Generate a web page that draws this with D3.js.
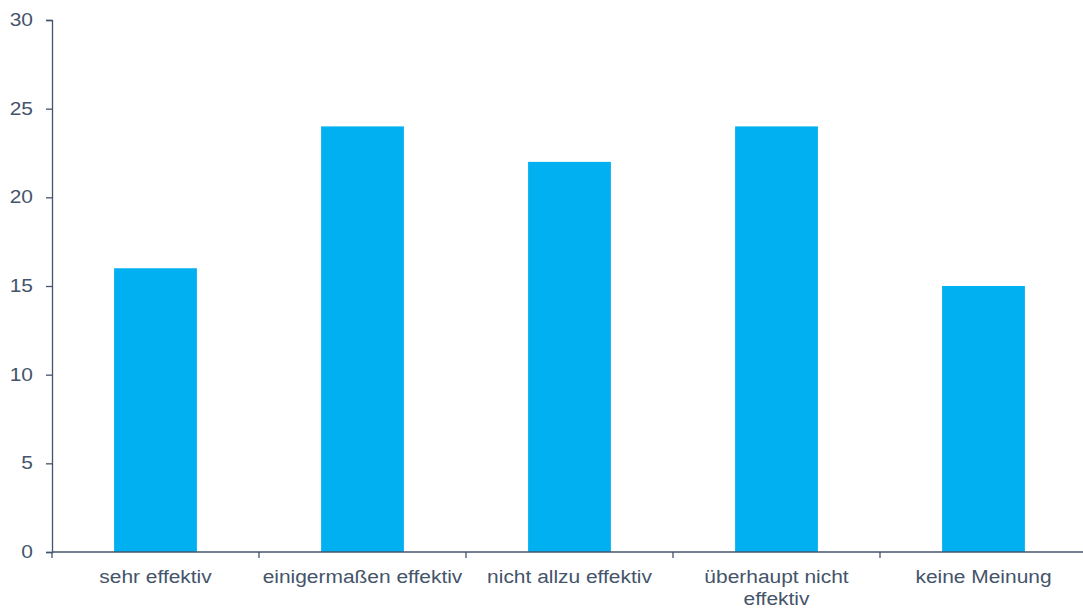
<!DOCTYPE html>
<html>
<head>
<meta charset="utf-8">
<script src="https://cdn.jsdelivr.net/npm/d3@7"></script>
<style>
  body { margin: 0; background: #fff; }
  svg { display: block; }
  text { font-family: "Liberation Sans", Arial, sans-serif; fill: #44546a; }
</style>
</head>
<body>
<svg id="chart" width="1083" height="610"></svg>
<script>
const categories = ["sehr effektiv", "einigermaßen effektiv", "nicht allzu effektiv", "überhaupt nicht effektiv", "keine Meinung"];
const values = [16, 24, 22, 24, 15];
const yTicks = [0, 5, 10, 15, 20, 25, 30];

const svg = d3.select("#chart");
const margin = { left: 52, top: 20, bottom: 58 };
const height = 610;
const plotRight = 1087;

const x = d3.scaleBand()
  .domain(categories)
  .range([margin.left, plotRight])
  .paddingInner(0.6)
  .paddingOuter(0.3);

const y = d3.scaleLinear()
  .domain([0, 30])
  .range([height - margin.bottom, margin.top]);

const axisColor = "#44546a";
const fontSize = 17.6;
const stretch = 1.19;   // wide glyph proportions

// bars
svg.append("g")
  .selectAll("rect")
  .data(values)
  .join("rect")
  .attr("x", (d, i) => x(categories[i]))
  .attr("y", d => y(d))
  .attr("width", x.bandwidth())
  .attr("height", d => y(0) - y(d))
  .attr("fill", "#00b0f0");

// y axis
const yPad = 13;
const yAxis = svg.append("g")
  .attr("transform", `translate(${margin.left},0)`)
  .call(d3.axisLeft(y).tickValues(yTicks).tickSize(6).tickPadding(yPad));
yAxis.select(".domain").attr("stroke", axisColor).attr("stroke-width", 1.3);
yAxis.selectAll(".tick line").attr("stroke", axisColor).attr("stroke-width", 1.3);
yAxis.selectAll(".tick text")
  .style("font-size", fontSize + "px")
  .attr("fill", axisColor)
  .attr("transform", () => {
    const tx = -(6 + yPad);
    return `translate(${tx},0) scale(${stretch},1) translate(${-tx},0)`;
  });

// x axis: line and tick marks at category boundaries
const xg = svg.append("g");
xg.append("line")
  .attr("x1", margin.left).attr("x2", plotRight)
  .attr("y1", y(0)).attr("y2", y(0))
  .attr("stroke", axisColor).attr("stroke-width", 1.6);
const step = x.step();
const boundaries = categories.map((c, i) => margin.left + i * step).concat([plotRight]);
xg.selectAll("line.tick")
  .data(boundaries)
  .join("line")
  .attr("class", "tick")
  .attr("x1", d => d).attr("x2", d => d)
  .attr("y1", y(0)).attr("y2", y(0) + 6)
  .attr("stroke", axisColor).attr("stroke-width", 1.3);

// category labels, wrapped to the band width
const maxWidth = step - 2;
categories.forEach(c => {
  const cx = x(c) + x.bandwidth() / 2;
  const g = xg.append("g")
    .attr("transform", `translate(${cx},${y(0) + 31}) scale(${stretch},1)`);
  const t = g.append("text")
    .attr("x", 0)
    .attr("y", 0)
    .attr("text-anchor", "middle")
    .style("font-size", fontSize + "px");
  const words = c.split(" ");
  let line = [];
  let tspan = t.append("tspan").attr("x", 0).attr("dy", 0);
  words.forEach(w => {
    line.push(w);
    tspan.text(line.join(" "));
    if (tspan.node().getComputedTextLength() * stretch > maxWidth && line.length > 1) {
      line.pop();
      tspan.text(line.join(" "));
      line = [w];
      tspan = t.append("tspan").attr("x", 0).attr("dy", 22).text(w);
    }
  });
});
</script>
</body>
</html>
